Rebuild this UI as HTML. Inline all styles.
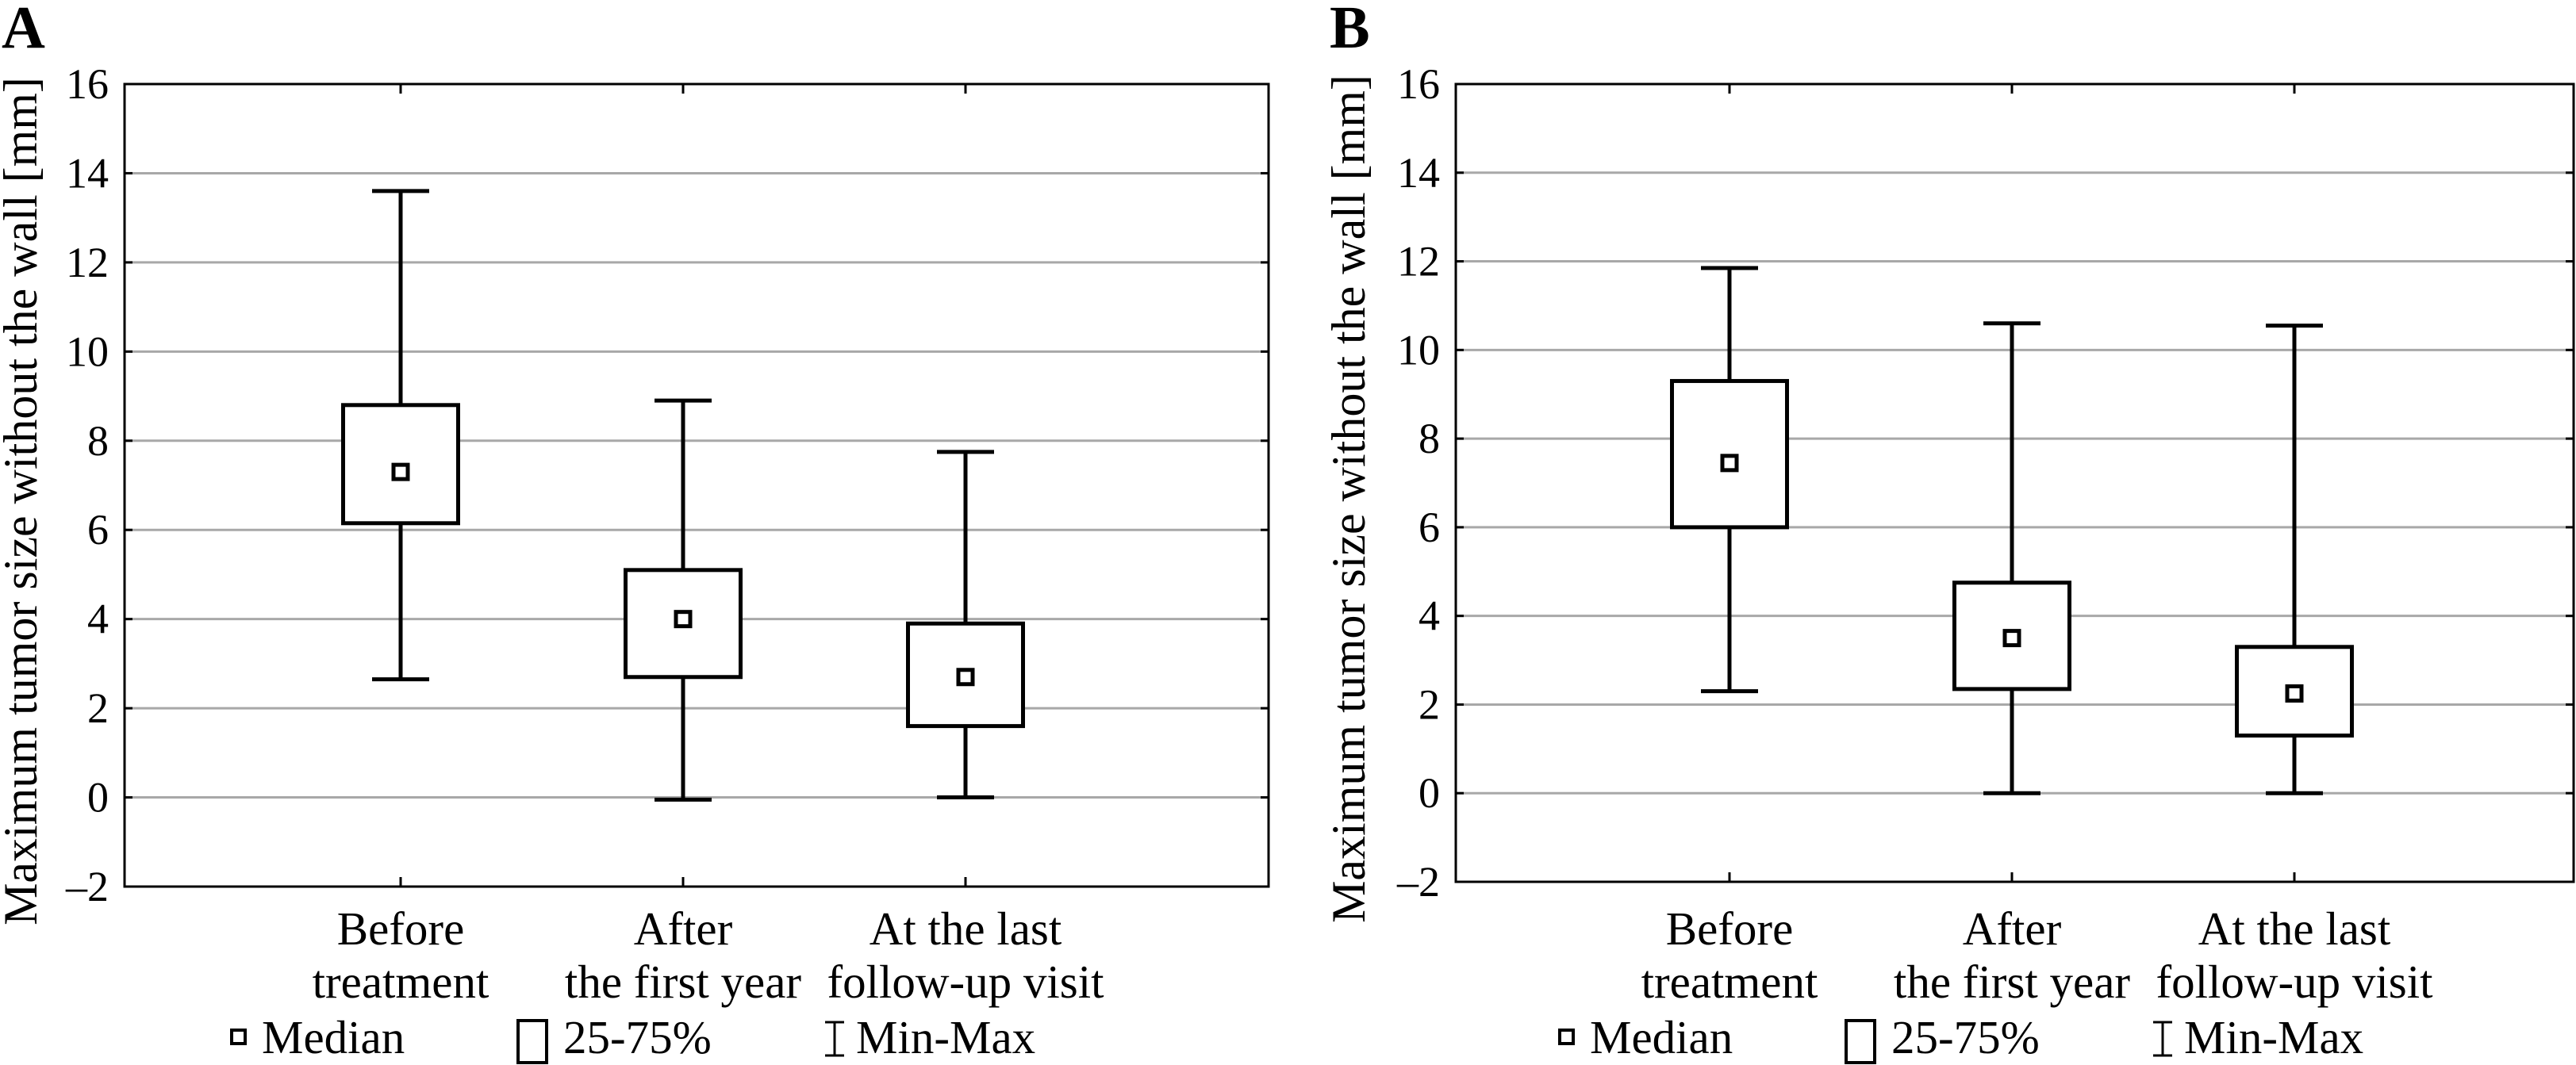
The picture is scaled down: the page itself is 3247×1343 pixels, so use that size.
<!DOCTYPE html>
<html><head><meta charset="utf-8"><style>
html,body{margin:0;padding:0;background:#fff;}
svg{display:block;font-family:"Liberation Serif",serif;}
</style></head><body>
<svg id="chart" width="3247" height="1343" viewBox="0 0 3247 1343"></svg>
<script>
const categories = [["Before","treatment"],["After","the first year"],["At the last","follow-up visit"]];
const yTicks = [-2,0,2,4,6,8,10,12,14,16];
const aMin = [2.65, -0.05, 0];
const aQ1 = [6.15, 2.7, 1.6];
const aMed = [7.3, 4.0, 2.7];
const aQ3 = [8.8, 5.1, 3.9];
const aMax = [13.6, 8.9, 7.75];
const bMin = [2.3, 0, 0];
const bQ1 = [6.0, 2.35, 1.3];
const bMed = [7.45, 3.5, 2.25];
const bQ3 = [9.3, 4.75, 3.3];
const bMax = [11.85, 10.6, 10.55];

const NS = "http://www.w3.org/2000/svg";
const svg = document.getElementById('chart');
function mk(tag, attrs, parent, text){
  const e = document.createElementNS(NS, tag);
  for (const k in attrs) e.setAttribute(k, attrs[k]);
  if (text !== undefined) e.textContent = text;
  (parent || svg).appendChild(e);
  return e;
}

function panel(letter, ox, left, right, top, bottom, firstX, mins, q1, med, q3, maxs){
  const g = mk('g', {});
  
  
  const y = v => bottom - (v - (-2)) / 18 * (bottom - top);
  const n = categories.length;
  const x = i => firstX + i * 356;
  const lbl = mk('text', {x: ox + 2, y: 60, 'font-size': 76, 'font-weight': 'bold'}, g, letter);
  
  
  yTicks.forEach(t => {
    if (t > -2 && t < 16) {
      const gl = mk('line', {x1: left, x2: right, y1: y(t), y2: y(t), stroke: '#a8a8a8', 'stroke-width': 3}, g);
      
      
    }
    const tk = mk('line', {x1: left, x2: left + 10, y1: y(t), y2: y(t), stroke: '#000', 'stroke-width': 3}, g);
    
    
    const tk2 = mk('line', {x1: right - 10, x2: right, y1: y(t), y2: y(t), stroke: '#000', 'stroke-width': 3}, g);
    
    
    const tl = mk('text', {x: left - 20, y: y(t) + 18, 'font-size': 54, 'text-anchor': 'end'}, g, String(t).replace('-', '\u2013'));
    
    
  });
  const frame = mk('rect', {x: left, y: top, width: right - left, height: bottom - top, fill: 'none', stroke: '#000', 'stroke-width': 3}, g);
  
  
  const yt = mk('text', {transform: `translate(${ox + 46},${(top + bottom) / 2 + 20}) rotate(-90)`, 'font-size': 60, 'text-anchor': 'middle'}, g, 'Maximum tumor size without the wall [mm]');
  
  
  const bw = 145, cw = 72, ms = 18;
  for (let i = 0; i < n; i++) {
    const cx = x(i);
    const t1 = mk('line', {x1: cx, x2: cx, y1: bottom, y2: bottom - 12, stroke: '#000', 'stroke-width': 3}, g);
    
    
    const t2 = mk('line', {x1: cx, x2: cx, y1: top, y2: top + 12, stroke: '#000', 'stroke-width': 3}, g);
    
    
    const w = mk('line', {x1: cx, x2: cx, y1: y(maxs[i]), y2: y(mins[i]), stroke: '#000', 'stroke-width': 5}, g);
    
    
    [maxs[i], mins[i]].forEach(v => {
      const c = mk('line', {x1: cx - cw / 2, x2: cx + cw / 2, y1: y(v), y2: y(v), stroke: '#000', 'stroke-width': 5}, g);
      
      
    });
    const b = mk('rect', {x: cx - bw / 2, y: y(q3[i]), width: bw, height: y(q1[i]) - y(q3[i]), fill: '#fff', stroke: '#000', 'stroke-width': 5}, g);
    
    
    const m = mk('rect', {x: cx - ms / 2, y: y(med[i]) - ms / 2, width: ms, height: ms, fill: '#fff', stroke: '#000', 'stroke-width': 5}, g);
    
    
    categories[i].forEach((line, j) => {
      const cl = mk('text', {x: cx, y: 1191 + j * 67, 'font-size': 59, 'text-anchor': 'middle'}, g, line);
      
      
    });
  }
  const lg = mk('g', {}, g);
  
  
  const m1 = mk('rect', {x: ox + 292, y: 1299, width: 17, height: 17, fill: '#fff', stroke: '#000', 'stroke-width': 4}, lg);
  
  
  const t1 = mk('text', {x: ox + 330, y: 1328, 'font-size': 59}, lg, 'Median');
  
  
  const b1 = mk('rect', {x: ox + 653, y: 1287, width: 36, height: 53, fill: '#fff', stroke: '#000', 'stroke-width': 4}, lg);
  
  
  const t2 = mk('text', {x: ox + 710, y: 1328, 'font-size': 59}, lg, '25-75%');
  
  
  const w1 = mk('path', {d: `M${ox+1040} 1289 H${ox+1064} M${ox+1052} 1289 V1331 M${ox+1040} 1331 H${ox+1064}`, fill: 'none', stroke: '#000', 'stroke-width': 3}, lg);
  
  
  const t3 = mk('text', {x: ox + 1079, y: 1328, 'font-size': 59}, lg, 'Min-Max');
  
  
}
panel('A', 0, 157, 1599, 106, 1118, 505, aMin, aQ1, aMed, aQ3, aMax);
panel('B', 1674, 1835, 3244, 106, 1112, 2180, bMin, bQ1, bMed, bQ3, bMax);
</script>
</body></html>
